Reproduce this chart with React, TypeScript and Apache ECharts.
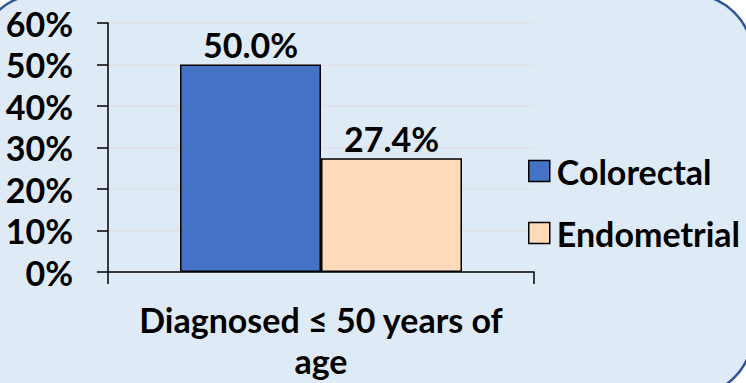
import React, { useEffect, useRef } from "react";
import * as echarts from "echarts";

const categories = ["Diagnosed ≤ 50 years of\nage"];
const seriesNames = ["Colorectal", "Endometrial"];
const colorectal = [0.5];
const endometrial = [0.274];
const yTicks = { min: 0, max: 0.6, interval: 0.1 };

const FONT = "Lato";
const FS = 34;

export default function App() {
  const ref = useRef<HTMLDivElement>(null);
  useEffect(() => {
    const chart = echarts.init(ref.current!, null, { renderer: "svg" });
    const labelStyle = {
      show: true,
      position: "top" as const,
      distance: 3,
      fontFamily: FONT,
      fontWeight: "bold" as const,
      fontSize: FS,
      color: "#000",
      formatter: (p: any) => (p.value * 100).toFixed(1) + "%",
    };
    chart.setOption({
      animation: false,
      backgroundColor: "#ffffff",
      textStyle: { fontFamily: FONT },
      graphic: [
        {
          type: "rect",
          z: -100,
          silent: true,
          shape: { x: -21, y: -5, width: 773, height: 400, r: [60, 60, 60, 0] },
          style: { fill: "#DEEAF6", stroke: "#2F5597", lineWidth: 2.5 },
        },
      ],
      grid: { left: 108, right: 212, top: 23, bottom: 111, containLabel: false },
      legend: {
        orient: "vertical",
        left: 523,
        top: 149,
        itemWidth: 21,
        itemHeight: 21,
        itemGap: 28,
        icon: "rect",
        data: seriesNames,
        textStyle: { fontFamily: FONT, fontWeight: "bold", fontSize: FS, color: "#000", padding: [0, 0, 0, 2] },
        itemStyle: { borderColor: "#000", borderWidth: 1.5 },
      },
      xAxis: {
        type: "category",
        data: categories,
        axisLine: { show: true, lineStyle: { color: "#000", width: 1.5 } },
        axisTick: { show: true, length: 12, lineStyle: { color: "#000", width: 1.5 } },
        axisLabel: {
          fontFamily: FONT,
          fontWeight: "bold",
          fontSize: FS,
          color: "#000",
          margin: 27,
          lineHeight: 41,
        },
      },
      yAxis: {
        type: "value",
        min: yTicks.min,
        max: yTicks.max,
        interval: yTicks.interval,
        axisLine: { show: true, lineStyle: { color: "#000", width: 1.5 } },
        axisTick: { show: true, length: 11, lineStyle: { color: "#000", width: 1.5 } },
        splitLine: { show: true, lineStyle: { color: "#E0E0E4", width: 1.5 } },
        axisLabel: {
          fontFamily: FONT,
          fontWeight: "bold",
          fontSize: FS,
          color: "#000",
          margin: 35,
          formatter: (v: number) => Math.round(v * 100) + "%",
        },
      },
      series: [
        {
          name: seriesNames[0],
          type: "bar",
          data: colorectal,
          barWidth: 141,
          barGap: "0%",
          itemStyle: { color: "#4472C4", borderColor: "#000", borderWidth: 1.5 },
          label: labelStyle,
        },
        {
          name: seriesNames[1],
          type: "bar",
          data: endometrial,
          barWidth: 141,
          barGap: "0%",
          itemStyle: { color: "#FFDAB9", borderColor: "#000", borderWidth: 1.5 },
          label: labelStyle,
        },
      ],
    });
    return () => chart.dispose();
  }, []);
  return (
    <div
      ref={ref}
      style={{ position: "fixed", left: 0, top: 0, width: 746, height: 383 }}
    />
  );
}
